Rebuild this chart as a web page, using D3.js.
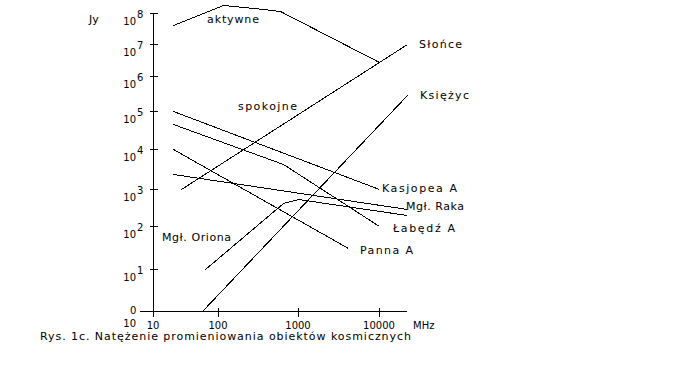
<!DOCTYPE html>
<html lang="pl">
  <head>
    <meta charset="UTF-8" />
    <title>Rys. 1c. Natężenie promieniowania obiektów kosmicznych</title>
    <style>
      body {
        margin: 0;
        background: #fff;
      }
      svg text {
        font-family: "DejaVu Sans", sans-serif;
        fill: #000;
      }
      .curve {
        fill: none;
        stroke: #000;
        stroke-width: 1px;
        shape-rendering: crispEdges;
      }
      .axis line,
      .axis path {
        stroke: #000;
        shape-rendering: crispEdges;
      }
    </style>
  </head>
  <body>
    <svg width="690" height="367"></svg>
    <script src="https://cdnjs.cloudflare.com/ajax/libs/d3/7.8.5/d3.min.js"></script>
    <script>
      // osie: MHz i Jy
      const freqTicks = [10, 100, 1000, 10000];
      const fluxExps = [0, 1, 2, 3, 4, 5, 6, 7, 8];

      // krzywe [MHz, Jy]
      const aktywne = [[20, 4e7], [115, 1.8e8], [280, 1.5e8], [600, 1.15e8], [10000, 2.7e6]];
      const spokojne = [[27, 1000], [22000, 1e7]];
      const ksiezyc = [[57, 1], [22000, 2.9e5]];
      const kasjopea = [[20, 1e5], [10000, 1000]];
      const labedz = [[20, 4.5e4], [650, 4200], [10000, 100]];
      const panna = [[20, 1e4], [4200, 31]];
      const raka = [[20, 2400], [106, 1600], [22000, 290]];
      const oriona = [[63, 10], [650, 420], [1000, 540], [22000, 200]];

      const series = [aktywne, spokojne, ksiezyc, kasjopea, labedz, panna, raka, oriona];

      // podpisy: tekst, x, y (linia bazowa), szerokość
      const labels = [
        ["aktywne", 207, 23, 52],
        ["Słońce", 419, 48, 43],
        ["Księżyc", 420, 99, 49],
        ["spokojne", 238, 110, 59],
        ["Kasjopea A", 382, 192, 75],
        ["Mgł. Raka", 406, 210, 58],
        ["Łabędź A", 393, 232, 62],
        ["Panna A", 360, 254, 53],
        ["Mgł. Oriona", 162, 241, 69],
      ];

      const svg = d3.select("svg");

      // skale są nieregularne jak na oryginalnym rysunku
      const x = d3.scaleLog()
        .domain(freqTicks)
        .range([153, 218, 298, 379]);
      const y = d3.scaleLog()
        .domain(fluxExps.map((e) => Math.pow(10, e)))
        .range([311, 269, 226, 189, 149, 111, 76, 44, 13]);

      const line = d3.line()
        .x((d) => Math.round(x(d[0])) + 0.5)
        .y((d) => Math.round(y(d[1])) + 0.5);

      // oś Y
      const gy = svg.append("g")
        .attr("class", "axis")
        .attr("transform", "translate(153.5,0)")
        .call(d3.axisLeft(y).tickValues(y.domain()).tickSize(0).tickFormat(""));
      gy.select(".domain").remove();
      gy.append("line").attr("y1", y(1e8)).attr("y2", 315);
      gy.selectAll(".tick line").attr("x1", -4).attr("x2", 4);

      // oś X
      const gx = svg.append("g")
        .attr("class", "axis")
        .attr("transform", "translate(0,311.5)")
        .call(d3.axisBottom(x).tickValues(freqTicks).tickSize(0).tickFormat(""));
      gx.select(".domain").remove();
      gx.append("line").attr("x1", 140).attr("x2", x(22000));
      gx.selectAll(".tick line").attr("y1", -4).attr("y2", 5);

      // opisy osi Y: 10 z wykładnikiem
      fluxExps.forEach((e) => {
        const ty = y(Math.pow(10, e));
        const g = svg.append("g").style("font-size", "10px");
        g.append("text")
          .attr("x", 136)
          .attr("y", ty + (e === 0 ? 16 : 12))
          .attr("text-anchor", "end")
          .text("10");
        g.append("text")
          .attr("x", e === 0 ? 130 : 137)
          .attr("y", ty + (e === 0 ? 3 : 5))
          .text(e);
      });

      // opisy osi X
      freqTicks.forEach((f) => {
        svg.append("text")
          .attr("x", x(f))
          .attr("y", 329)
          .attr("text-anchor", "middle")
          .style("font-size", "10px")
          .text(f);
      });
      svg.append("text").attr("x", 413).attr("y", 329).style("font-size", "10px").text("MHz");
      svg.append("text").attr("x", 89).attr("y", 23).style("font-size", "11px").text("Jy");

      svg.selectAll("path.curve")
        .data(series)
        .enter()
        .append("path")
        .attr("class", "curve")
        .attr("d", line);

      svg.selectAll("text.lbl")
        .data(labels)
        .enter()
        .append("text")
        .attr("class", "lbl")
        .attr("x", (d) => d[1])
        .attr("y", (d) => d[2])
        .attr("textLength", (d) => d[3])
        .attr("lengthAdjust", "spacing")
        .style("font-size", "11px")
        .text((d) => d[0]);

      svg.append("text")
        .attr("x", 40)
        .attr("y", 340)
        .attr("textLength", 371)
        .attr("lengthAdjust", "spacing")
        .style("font-size", "11px")
        .text("Rys. 1c. Natężenie promieniowania obiektów kosmicznych");
    </script>
  </body>
</html>
